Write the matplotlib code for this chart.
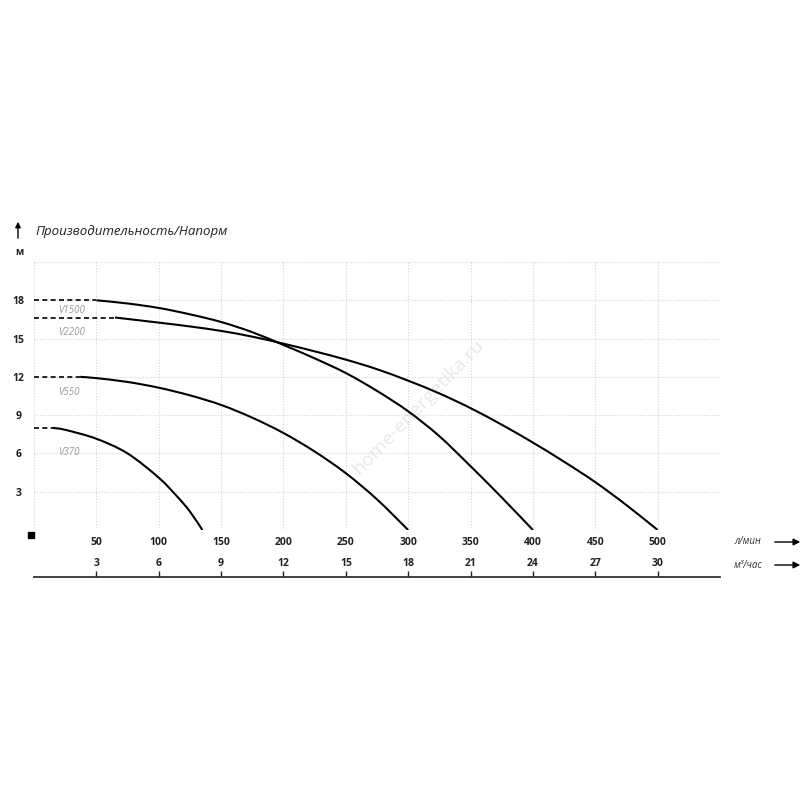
import matplotlib
matplotlib.use("Agg")
import matplotlib.pyplot as plt
from matplotlib.patches import Rectangle, PathPatch
from matplotlib.path import Path

plt.rcParams['font.family'] = ['Open Sans', 'DejaVu Sans']

# расход, л/мин -> напор, м
q_1500 = [50, 75, 100, 125, 150, 175, 200, 225, 250, 275, 300, 325, 350, 375, 400]
h_1500 = [18.0, 17.75, 17.4, 16.9, 16.3, 15.5, 14.5, 13.45, 12.3, 10.9, 9.3, 7.35, 5.0, 2.55, 0.0]

q_2200 = [65, 100, 125, 150, 175, 200, 225, 250, 275, 300, 325, 350, 375, 400, 425, 450, 475, 500]
h_2200 = [16.65, 16.25, 15.95, 15.6, 15.15, 14.6, 14.0, 13.35, 12.6, 11.7, 10.7, 9.55, 8.25, 6.85, 5.35, 3.75, 1.95, 0.0]

q_550 = [37, 50, 75, 100, 125, 150, 175, 200, 225, 250, 275, 300]
h_550 = [12.0, 11.9, 11.6, 11.15, 10.55, 9.8, 8.8, 7.6, 6.15, 4.45, 2.4, 0.0]

q_370 = [15, 25, 50, 75, 100, 115, 125, 135]
h_370 = [8.0, 7.85, 7.15, 6.0, 4.1, 2.6, 1.45, 0.0]

names = ['V1500', 'V2200', 'V550', 'V370']
curves = [(q_1500, h_1500), (q_2200, h_2200), (q_550, h_550), (q_370, h_370)]
label_y = [17.2, 15.5, 10.8, 6.05]

x_ticks = [50, 100, 150, 200, 250, 300, 350, 400, 450, 500]
m3_ticks = [3, 6, 9, 12, 15, 18, 21, 24, 27, 30]
y_ticks = [3, 6, 9, 12, 15, 18]


def smooth_path(q, h):
    # кривая Безье через точки (Catmull-Rom)
    pts = list(zip(q, h))
    verts = [pts[0]]
    codes = [Path.MOVETO]
    for i in range(len(pts) - 1):
        p0 = pts[i - 1] if i > 0 else pts[i]
        p1 = pts[i]
        p2 = pts[i + 1]
        p3 = pts[i + 2] if i + 2 < len(pts) else pts[i + 1]
        c1 = (p1[0] + (p2[0] - p0[0]) / 6, p1[1] + (p2[1] - p0[1]) / 6)
        c2 = (p2[0] - (p3[0] - p1[0]) / 6, p2[1] - (p3[1] - p1[1]) / 6)
        verts += [c1, c2, p2]
        codes += [Path.CURVE4] * 3
    return Path(verts, codes)


fig = plt.figure(figsize=(8, 8), dpi=100)
ax = fig.add_axes([0.0425, 0.3375, 0.8575, 0.335])
ax.set_xlim(0, 550)
ax.set_ylim(0, 21)

ax.set_xticks(range(0, 551, 50))
ax.set_yticks(range(0, 22, 3))
ax.grid(True, color='#d4d4d4', linestyle=(0, (1, 1.5)), linewidth=0.8)
for s in ax.spines.values():
    s.set_visible(False)
ax.set_xticklabels([''] + [str(v) for v in x_ticks] + [''])
ax.set_yticklabels([''] + [str(v) for v in y_ticks] + [''])
ax.tick_params(length=0, labelsize=7.5, colors='#222222')
ax.tick_params(axis='x', pad=5)
ax.tick_params(axis='y', pad=11)
for t in ax.get_xticklabels() + ax.get_yticklabels():
    t.set_fontweight('bold')
for t in ax.get_yticklabels():
    t.set_horizontalalignment('center')

ax.text(0.56, 0.46, 'home-energetika.ru', transform=ax.transAxes,
        rotation=46, color='#e9e9e9', fontsize=14, ha='center', va='center',
        zorder=0)

for name, (q, h), ly in zip(names, curves, label_y):
    ax.plot([0, q[0]], [h[0], h[0]], color='black', lw=1.2,
            linestyle=(0, (3, 2)), solid_capstyle='butt')
    ax.add_patch(PathPatch(smooth_path(q, h), facecolor='none',
                           edgecolor='black', lw=1.5, zorder=3))
    ax.text(19, ly, name, color='#9a9a9a', fontsize=7, style='italic',
            va='center', ha='left')

# нижняя шкала м3/час
ax2 = fig.add_axes([0.0425, 1 - 577 / 800, 0.8575, 0.0001])
ax2.set_xlim(0, 33)
ax2.set_ylim(0, 1)
for k in ['left', 'right', 'top']:
    ax2.spines[k].set_visible(False)
ax2.spines['bottom'].set_color('#333333')
ax2.spines['bottom'].set_linewidth(1.3)
ax2.set_yticks([])
ax2.set_xticks(m3_ticks)
ax2.set_xticklabels([str(v) for v in m3_ticks])
ax2.xaxis.set_ticks_position('top')
ax2.tick_params(axis='x', direction='out', length=4, width=1, colors='#222222',
                labelsize=7.5, pad=2)
for t in ax2.get_xticklabels():
    t.set_fontweight('bold')

# подписи и стрелки
fig.text(35 / 800, 1 - 232 / 800, 'Производительность/Напорм', style='italic',
         fontsize=9.5, color='#222222', va='center', ha='left')
fig.text(19 / 800, 1 - 253 / 800, 'м', fontweight='bold', fontsize=7,
         color='#222222', va='center', ha='center')
ax.annotate('', xy=(18 / 800, 1 - 219 / 800), xytext=(18 / 800, 1 - 241 / 800),
            xycoords='figure fraction', textcoords='figure fraction',
            arrowprops=dict(arrowstyle='-|>', color='black', lw=1,
                            mutation_scale=8))
for yy, txt in [(542, 'л/мин'), (565, 'м³/час')]:
    fig.text(748 / 800, 1 - yy / 800, txt, style='italic', fontsize=7,
             color='#333333', va='center', ha='center')
    ax.annotate('', xy=(803 / 800, 1 - yy / 800), xytext=(772 / 800, 1 - yy / 800),
                xycoords='figure fraction', textcoords='figure fraction',
                arrowprops=dict(arrowstyle='-|>', color='black', lw=1,
                                mutation_scale=10))

fig.patches.append(Rectangle((28 / 800, 1 - 538 / 800), 6 / 800, 6 / 800,
                             transform=fig.transFigure, color='black'))

fig.savefig('out.png', dpi=100, facecolor='white')
